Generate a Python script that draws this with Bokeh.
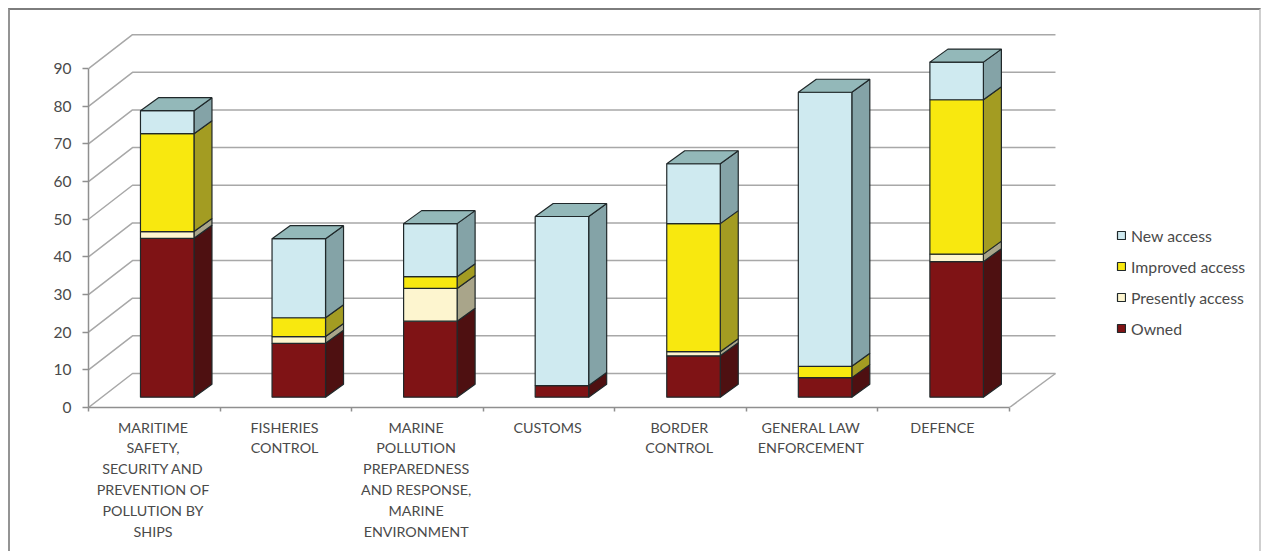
from bokeh.embed import file_html
from bokeh.resources import INLINE
from bokeh.plotting import figure
from bokeh.models import (FixedTicker, InlineStyleSheet, Legend, LegendItem, LinearAxis, Range1d)

categories = [
    "MARITIME\nSAFETY,\nSECURITY AND\nPREVENTION OF\nPOLLUTION BY\nSHIPS",
    "FISHERIES\nCONTROL",
    "MARINE\nPOLLUTION\nPREPAREDNESS\nAND RESPONSE,\nMARINE\nENVIRONMENT",
    "CUSTOMS",
    "BORDER\nCONTROL",
    "GENERAL LAW\nENFORCEMENT",
    "DEFENCE",
]
owned = [42.2, 14.3, 20.2, 3.1, 11.0, 5.2, 36.0]
presently_access = [1.8, 1.8, 8.7, 0.0, 1.1, 0.0, 2.0]
improved_access = [26.0, 5.0, 3.1, 0.0, 34.0, 3.0, 41.0]
new_access = [6.1, 21.0, 14.1, 44.9, 15.9, 72.8, 10.0]
y_ticks = [0, 10, 20, 30, 40, 50, 60, 70, 80, 90]

series = [
    ("Owned", owned, "#7f1315", "#4e1011"),
    ("Presently access", presently_access, "#fdf5cf", "#a9a58a"),
    ("Improved access", improved_access, "#f8e80f", "#a39c22"),
    ("New access", new_access, "#cfeaf0", "#84a3a7"),
]
TOP_COLOR = "#93b8b9"
EDGE = "#20282a"
GRID = "#a8a8a8"
AXIS = "#8f8f8f"
TEXT = "#4a4a4a"
FONT = "Lato"

PX_X = 131.57   # pixels per category
PX_Y = 3.765    # pixels per value unit
FRAME_W, FRAME_H = 1173, 407

p = figure(width=1261, height=551, frame_width=FRAME_W, frame_height=FRAME_H,
           x_range=Range1d(0, FRAME_W / PX_X), y_range=Range1d(0, FRAME_H / PX_Y),
           output_backend="svg", toolbar_location=None, x_axis_type=None, y_axis_type=None,
           min_border_left=88, min_border_right=0, min_border_top=0, min_border_bottom=144,
           background_fill_color="white", border_fill_color="white", outline_line_color=None)
p.grid.visible = False

# depth projection of the floor and of the bars
WALL_DX, WALL_DY = 44 / PX_X, 34 / PX_Y
BAR_SHIFT_Y = 10.3 / PX_Y
BAR_DX, BAR_DY = 18 / PX_X, 13 / PX_Y
BAR_LEFT, BAR_W = 0.395, 53.5 / PX_X
END = 7 + 46 / PX_X

# back wall and floor
gx, gy = [], []
for t in y_ticks:
    gx.append([0, WALL_DX, END])
    gy.append([t, t + WALL_DY, t + WALL_DY])
gx.append([7, END])
gy.append([0, WALL_DY])
p.multi_line(gx, gy, line_color=GRID, line_width=1.5)

# bars
n = len(categories)
base = [BAR_SHIFT_Y] * n
legend_renderers = {}
for name, vals, col, side in series:
    fx, fy, sx, sy = [], [], [], []
    for i in range(n):
        if vals[i] <= 0:
            continue
        l = i + BAR_LEFT
        r = l + BAR_W
        b = base[i]
        t = b + vals[i]
        fx.append([l, r, r, l])
        fy.append([b, b, t, t])
        sx.append([r, r + BAR_DX, r + BAR_DX, r])
        sy.append([b, b + BAR_DY, t + BAR_DY, t])
        base[i] = t
    p.patches(sx, sy, fill_color=side, line_color=EDGE, line_width=1.2)
    legend_renderers[name] = p.patches(fx, fy, fill_color=col, line_color=EDGE, line_width=1.2)

tx, ty = [], []
for i in range(n):
    l = i + BAR_LEFT
    r = l + BAR_W
    t = base[i]
    tx.append([l, r, r + BAR_DX, l + BAR_DX])
    ty.append([t, t, t + BAR_DY, t + BAR_DY])
p.patches(tx, ty, fill_color=TOP_COLOR, line_color=EDGE, line_width=1.2)

# axes
ya = LinearAxis(ticker=FixedTicker(ticks=y_ticks), bounds=(0, 90))
ya.axis_line_color = AXIS
ya.axis_line_width = 1.5
ya.major_tick_line_color = AXIS
ya.major_tick_line_width = 1.5
ya.major_tick_out = 6
ya.major_tick_in = 0
ya.minor_tick_line_color = None
ya.major_label_standoff = 11
ya.major_label_text_font = FONT
ya.major_label_text_font_size = "15.5px"
ya.major_label_text_color = TEXT
p.add_layout(ya, "left")

xa = LinearAxis(ticker=FixedTicker(ticks=[i + 0.49 for i in range(n)],
                                   minor_ticks=list(range(n + 1))),
                bounds=(0, 7))
xa.major_label_overrides = {i + 0.49: c for i, c in enumerate(categories)}
xa.axis_line_color = AXIS
xa.axis_line_width = 1.5
xa.major_tick_line_color = None
xa.major_tick_out = 0
xa.major_tick_in = 0
xa.minor_tick_line_color = AXIS
xa.minor_tick_line_width = 1.5
xa.minor_tick_out = 4
xa.minor_tick_in = 0
xa.major_label_standoff = 7
xa.major_label_orientation = "horizontal"
xa.major_label_text_font = FONT
xa.major_label_text_font_size = "14.3px"
xa.major_label_text_color = TEXT
xa.major_label_text_line_height = 1.23
p.add_layout(xa, "below")

# legend
items = [LegendItem(label=s[0], renderers=[legend_renderers[s[0]]]) for s in reversed(series)]
legend = Legend(items=items, location=(1028, 69), orientation="vertical",
                glyph_width=10, glyph_height=10, label_height=20, label_standoff=5,
                spacing=11, padding=0, margin=0, border_line_color=None,
                background_fill_alpha=0, label_text_font=FONT, label_text_font_size="15.8px",
                label_text_color=TEXT)
p.add_layout(legend, "center")

# outer picture frame
p.stylesheets = [InlineStyleSheet(css=""":host::after {
  content: ""; position: absolute; left: 8px; top: 8px; width: 1253px; height: 543px;
  box-sizing: border-box; pointer-events: none;
  border-top: 2.5px solid #7d7d7d; border-left: 2px solid #949494; border-right: 2px solid #cfcfcf;
}""")]

open("out.html", "w").write(file_html(p, INLINE))
